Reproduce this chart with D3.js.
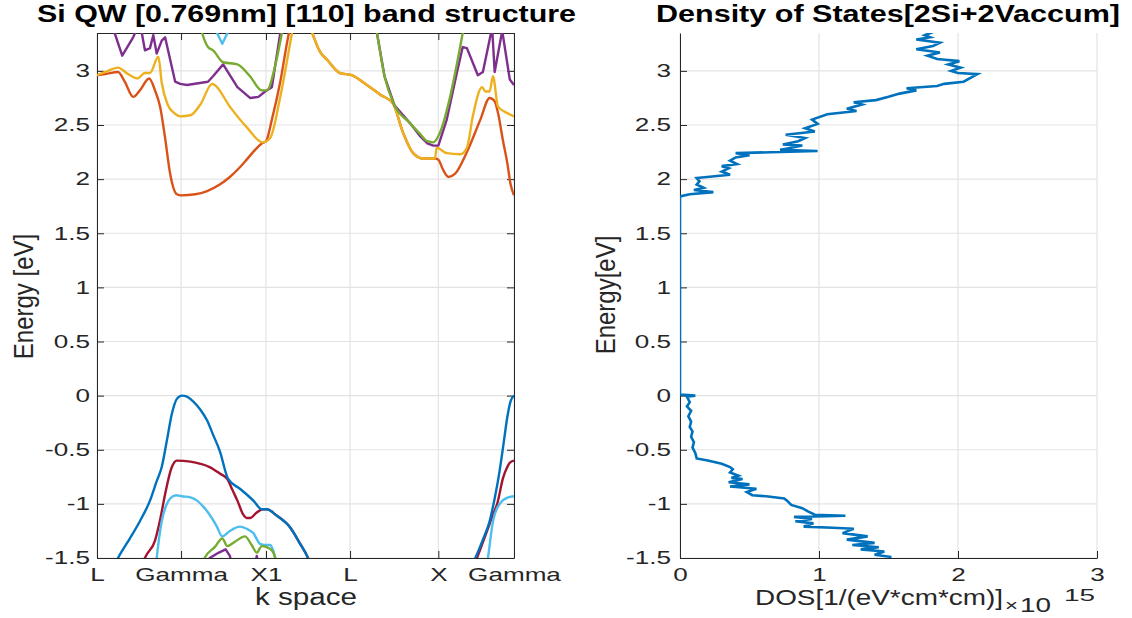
<!DOCTYPE html>
<html>
<head>
<meta charset="utf-8">
<script src="https://cdn.jsdelivr.net/npm/d3@7"></script>
<style>
body { margin: 0; background: #fff; }
text { font-family: "Liberation Sans", Arial, Helvetica, sans-serif; fill: #262626; }
</style>
</head>
<body>
<div id="chart"></div>
<script>
// k path ticks (band structure x axis)
var kTicks = [0, 1, 2.01, 3.01, 4.06, 4.96];
var kLabels = ["L", "Gamma", "X1", "L", "X", "Gamma"];
var energyTicks = [-1.5, -1, -0.5, 0, 0.5, 1, 1.5, 2, 2.5, 3];
var dosTicks = [0, 1, 2, 3];

// conduction bands [k, E]
var cbOrange = [[0.00,2.96],[0.10,2.97],[0.25,2.99],[0.33,2.90],[0.43,2.76],[0.51,2.82],[0.62,2.93],[0.69,2.82],[0.75,2.67],[0.81,2.38],[0.87,2.05],[0.95,1.86],[1.00,1.85],[1.17,1.86],[1.31,1.89],[1.46,1.95],[1.58,2.02],[1.70,2.11],[1.78,2.18],[1.88,2.27],[1.96,2.33],[2.01,2.35],[2.08,2.55],[2.18,2.90],[2.27,3.30],[2.41,3.70],[2.56,3.35],[2.65,3.18],[2.74,3.10],[2.89,2.98],[3.03,2.96],[3.21,2.87],[3.37,2.78],[3.52,2.70],[3.64,2.43],[3.76,2.24],[3.88,2.19],[4.02,2.19],[4.06,2.18],[4.12,2.08],[4.18,2.02],[4.26,2.05],[4.40,2.25],[4.56,2.55],[4.67,2.75],[4.73,2.72],[4.77,2.61],[4.83,2.35],[4.88,2.15],[4.92,1.95],[4.96,1.85]];
var cbYellow = [[0.00,2.96],[0.10,2.99],[0.25,3.03],[0.37,2.97],[0.48,2.93],[0.57,2.98],[0.63,2.98],[0.73,3.13],[0.77,2.89],[0.84,2.69],[0.92,2.61],[0.99,2.58],[1.11,2.59],[1.23,2.69],[1.37,2.88],[1.40,2.87],[1.58,2.67],[1.78,2.48],[1.97,2.34],[2.06,2.38],[2.18,2.76],[2.32,3.35],[2.41,3.70],[2.56,3.35],[2.65,3.18],[2.74,3.10],[2.89,2.98],[3.03,2.96],[3.21,2.87],[3.37,2.78],[3.52,2.70],[3.64,2.43],[3.76,2.24],[3.88,2.19],[4.02,2.19],[4.04,2.29],[4.16,2.24],[4.32,2.23],[4.40,2.29],[4.47,2.58],[4.58,2.85],[4.62,2.81],[4.67,2.81],[4.71,2.95],[4.77,2.67],[4.88,2.61],[4.96,2.58]];
var cbPurpleA = [[0.10,3.70],[0.21,3.35],[0.30,3.14],[0.43,3.31],[0.51,3.45],[0.57,3.19],[0.63,3.21],[0.67,3.33],[0.71,3.16],[0.77,3.28],[0.81,3.31],[0.93,2.90],[0.99,2.88],[1.07,2.87],[1.32,2.90],[1.38,2.95],[1.50,3.06],[1.67,2.85],[1.82,2.75],[1.92,2.76],[2.00,2.81],[2.08,2.85],[2.18,3.35],[2.24,3.70]];
var cbPurpleB = [[3.25,3.70],[3.33,3.35],[3.42,2.95],[3.54,2.68],[3.72,2.52],[3.84,2.40],[3.93,2.33],[4.00,2.31],[4.06,2.31],[4.16,2.55],[4.28,2.98],[4.35,3.22],[4.40,3.21],[4.53,2.96],[4.59,2.99],[4.70,3.40],[4.73,2.99],[4.82,3.37],[4.91,2.92],[4.96,2.87]];
var cbGreenA = [[1.15,3.70],[1.25,3.35],[1.32,3.22],[1.38,3.19],[1.50,3.08],[1.67,3.06],[1.82,2.95],[1.96,2.82],[2.02,2.82],[2.12,3.05],[2.20,3.35],[2.30,3.70]];
var cbGreenB = [[3.25,3.70],[3.33,3.35],[3.42,2.95],[3.54,2.68],[3.72,2.52],[3.84,2.42],[3.93,2.35],[4.00,2.34],[4.08,2.43],[4.20,2.76],[4.29,3.10],[4.35,3.35],[4.43,3.70]];
var cbCyan = [[1.41,3.38],[1.49,3.25],[1.57,3.38]];

// valence bands [k, E]
var vbBlueA = [[0.19,-1.60],[0.25,-1.50],[0.39,-1.32],[0.51,-1.16],[0.63,-0.97],[0.71,-0.79],[0.77,-0.66],[0.83,-0.42],[0.89,-0.17],[0.95,-0.03],[1.01,0.00],[1.07,-0.01],[1.14,-0.05],[1.23,-0.13],[1.31,-0.23],[1.38,-0.36],[1.46,-0.51],[1.56,-0.77],[1.70,-0.86],[1.86,-0.97],[1.96,-1.05],[2.02,-1.05],[2.14,-1.11],[2.30,-1.22],[2.41,-1.36],[2.51,-1.50],[2.56,-1.60]];
var vbBlueB = [[4.44,-1.60],[4.50,-1.50],[4.59,-1.33],[4.67,-1.16],[4.73,-0.95],[4.79,-0.69],[4.84,-0.42],[4.88,-0.20],[4.92,-0.05],[4.96,0.00]];
var vbRedA = [[0.51,-1.65],[0.57,-1.50],[0.69,-1.34],[0.75,-1.15],[0.81,-0.91],[0.89,-0.66],[0.95,-0.60],[1.11,-0.61],[1.23,-0.63],[1.34,-0.66],[1.46,-0.72],[1.55,-0.77],[1.61,-0.87],[1.67,-0.97],[1.74,-1.10],[1.78,-1.13],[1.82,-1.13],[1.90,-1.08],[1.97,-1.05],[2.02,-1.05],[2.14,-1.11],[2.30,-1.22],[2.41,-1.36],[2.51,-1.50],[2.56,-1.60]];
var vbRedB = [[4.47,-1.60],[4.52,-1.50],[4.64,-1.25],[4.71,-1.10],[4.76,-1.00],[4.83,-0.76],[4.88,-0.66],[4.91,-0.62],[4.96,-0.60]];
var vbCyanA = [[0.69,-1.65],[0.71,-1.50],[0.77,-1.16],[0.82,-1.02],[0.87,-0.95],[0.94,-0.92],[1.01,-0.93],[1.11,-0.94],[1.19,-0.97],[1.27,-1.03],[1.34,-1.10],[1.42,-1.20],[1.49,-1.30],[1.58,-1.25],[1.70,-1.21],[1.78,-1.23],[1.86,-1.27],[1.94,-1.37],[2.00,-1.38],[2.06,-1.38],[2.09,-1.42],[2.12,-1.50],[2.14,-1.60]];
var vbCyanB = [[4.63,-1.60],[4.65,-1.50],[4.71,-1.16],[4.79,-1.00],[4.89,-0.94],[4.96,-0.93]];
var vbGreen = [[1.26,-1.60],[1.28,-1.50],[1.40,-1.40],[1.49,-1.32],[1.55,-1.39],[1.64,-1.35],[1.76,-1.30],[1.84,-1.38],[1.90,-1.45],[1.96,-1.39],[2.02,-1.40],[2.08,-1.43],[2.12,-1.50],[2.14,-1.60]];
var vbPurpleA = [[1.31,-1.60],[1.34,-1.50],[1.45,-1.45],[1.53,-1.42],[1.58,-1.48],[1.62,-1.60]];
var vbPurpleB = [[1.88,-1.60],[1.90,-1.48],[1.93,-1.60]];

// density of states: energy (eV) and DOS (x 1e15)
var dosEnergy = [-1.52,-1.49,-1.47,-1.44,-1.42,-1.40,-1.38,-1.36,-1.33,-1.30,-1.27,-1.23,-1.22,-1.21,-1.18,-1.16,-1.14,-1.12,-1.11,-1.10,-1.07,-1.04,-1.01,-0.97,-0.95,-0.93,-0.92,-0.89,-0.86,-0.84,-0.82,-0.80,-0.77,-0.76,-0.74,-0.71,-0.68,-0.66,-0.63,-0.60,-0.58,-0.53,-0.48,-0.43,-0.38,-0.33,-0.29,-0.24,-0.19,-0.14,-0.10,-0.06,-0.01,0.00,0.01,1.84,1.86,1.88,1.90,1.92,1.95,1.98,2.01,2.04,2.07,2.10,2.12,2.14,2.17,2.20,2.22,2.24,2.26,2.27,2.29,2.31,2.32,2.35,2.38,2.41,2.44,2.47,2.51,2.55,2.60,2.63,2.65,2.69,2.71,2.73,2.76,2.79,2.82,2.84,2.86,2.88,2.90,2.97,2.98,3.00,3.03,3.06,3.09,3.11,3.14,3.17,3.20,3.23,3.26,3.29,3.31,3.33,3.36];
var dosValue = [1.43,1.52,1.40,1.47,1.30,1.43,1.24,1.40,1.20,1.35,1.17,1.25,1.10,0.89,0.96,0.83,0.95,0.82,1.19,0.97,0.92,0.88,0.80,0.77,0.75,0.62,0.52,0.48,0.55,0.36,0.50,0.35,0.45,0.37,0.42,0.36,0.38,0.36,0.30,0.20,0.12,0.11,0.09,0.10,0.08,0.09,0.07,0.08,0.06,0.08,0.05,0.07,0.05,0.11,0.00,0.00,0.07,0.24,0.10,0.17,0.12,0.14,0.12,0.36,0.30,0.35,0.30,0.41,0.36,0.40,0.50,0.40,0.99,0.72,0.80,0.88,0.74,0.85,0.90,0.76,0.97,0.90,0.99,0.95,1.06,1.27,1.20,1.31,1.25,1.41,1.50,1.58,1.70,1.63,1.85,1.90,2.04,2.14,2.00,1.95,2.02,1.93,2.01,1.85,1.78,1.87,1.70,1.82,1.87,1.70,1.80,1.76,1.82];

var C = { blue: "#0072BD", orange: "#D95319", yellow: "#EDB120", purple: "#7E2F8E",
          green: "#77AC30", cyan: "#4DBEEE", red: "#A2142F" };

var bands = [
    { pts: vbRedA, color: C.red }, { pts: vbRedB, color: C.red },
    { pts: vbBlueA, color: C.blue }, { pts: vbBlueB, color: C.blue },
    { pts: vbCyanA, color: C.cyan }, { pts: vbCyanB, color: C.cyan },
    { pts: vbGreen, color: C.green },
    { pts: vbPurpleA, color: C.purple, sharp: true }, { pts: vbPurpleB, color: C.purple, sharp: true },
    { pts: cbOrange, color: C.orange }, { pts: cbYellow, color: C.yellow },
    { pts: cbPurpleA, color: C.purple, sharp: true }, { pts: cbPurpleB, color: C.purple, sharp: true },
    { pts: cbGreenA, color: C.green }, { pts: cbGreenB, color: C.green },
    { pts: cbCyan, color: C.cyan, sharp: true }
];

var top0 = 33, bot0 = 558;
var sx = 1.45; // horizontal stretch of the text

var svg = d3.select('#chart').append('svg')
    .attr('width', 1132)
    .attr('height', 618);

var yE = d3.scaleLinear().domain([-1.5, 3.35]).range([bot0, top0]);
var xK = d3.scaleLinear().domain([0, 4.96]).range([97, 514]);
var xD = d3.scaleLinear().domain([0, 3]).range([680, 1097]);

var defs = svg.append('defs');
defs.append('clipPath').attr('id', 'clipL').append('rect')
    .attr('x', 97).attr('y', top0).attr('width', 514 - 97).attr('height', bot0 - top0);
defs.append('clipPath').attr('id', 'clipR').append('rect')
    .attr('x', 680).attr('y', top0).attr('width', 1097 - 680).attr('height', bot0 - top0);

function drawGrid(xs, xticks) {
    var g = svg.append('g').attr('stroke', '#e3e3e3').attr('stroke-width', 1.2);
    g.selectAll('.hg').data(energyTicks).enter().append('line')
        .attr('x1', xs.range()[0]).attr('x2', xs.range()[1])
        .attr('y1', function (d) { return yE(d); })
        .attr('y2', function (d) { return yE(d); });
    g.selectAll('.vg').data(xticks).enter().append('line')
        .attr('y1', top0).attr('y2', bot0)
        .attr('x1', function (d) { return xs(d); })
        .attr('x2', function (d) { return xs(d); });
}

drawGrid(xK, kTicks);
drawGrid(xD, dosTicks);

function styleAxis(g) {
    g.attr('font-family', '"Liberation Sans", Arial, Helvetica, sans-serif')
        .attr('font-size', 18);
    g.select('.domain').attr('stroke', '#262626').attr('stroke-width', 1);
    g.selectAll('.tick line').attr('stroke', '#262626').attr('stroke-width', 1);
    g.selectAll('.tick text').attr('fill', '#262626').attr('transform', 'scale(' + sx + ',1)');
}

// left panel axes (box on)
svg.append('g').attr('transform', 'translate(97,0)')
    .call(d3.axisLeft(yE).tickValues(energyTicks).tickSize(-7).tickSizeOuter(0).tickPadding(7 / sx)
        .tickFormat(function (d) { return String(d); }))
    .call(styleAxis);
svg.append('g').attr('transform', 'translate(514,0)')
    .call(d3.axisRight(yE).tickValues(energyTicks).tickSize(-7).tickSizeOuter(0).tickFormat(''))
    .call(styleAxis);
svg.append('g').attr('transform', 'translate(0,' + top0 + ')')
    .call(d3.axisTop(xK).tickValues(kTicks).tickSize(-7).tickSizeOuter(0).tickFormat(''))
    .call(styleAxis);
svg.append('g').attr('transform', 'translate(0,' + bot0 + ')')
    .call(d3.axisBottom(xK).tickValues(kTicks).tickSize(-7).tickSizeOuter(0).tickPadding(10)
        .tickFormat(function (d, i) { return kLabels[i]; }))
    .call(styleAxis);

// right panel axes (box off)
svg.append('g').attr('transform', 'translate(680,0)')
    .call(d3.axisLeft(yE).tickValues(energyTicks).tickSize(-7).tickSizeOuter(0).tickPadding(9 / sx)
        .tickFormat(function (d) { return String(d); }))
    .call(styleAxis);
svg.append('g').attr('transform', 'translate(0,' + bot0 + ')')
    .call(d3.axisBottom(xD).tickValues(dosTicks).tickSize(-7).tickSizeOuter(0).tickPadding(10)
        .tickFormat(function (d) { return String(d); }))
    .call(styleAxis);

// bands
var smooth = d3.line().curve(d3.curveMonotoneX)
    .x(function (d) { return xK(d[0]); })
    .y(function (d) { return yE(d[1]); });
var sharp = d3.line()
    .x(function (d) { return xK(d[0]); })
    .y(function (d) { return yE(d[1]); });

svg.append('g').attr('clip-path', 'url(#clipL)')
    .selectAll('path').data(bands).enter().append('path')
    .attr('d', function (b) { return b.sharp ? sharp(b.pts) : smooth(b.pts); })
    .attr('fill', 'none')
    .attr('stroke', function (b) { return b.color; })
    .attr('stroke-width', 2.4)
    .attr('stroke-linejoin', 'round');

// DOS
var dosLine = d3.line()
    .x(function (d, i) { return xD(dosValue[i]); })
    .y(function (d) { return yE(d); });

svg.append('g').attr('clip-path', 'url(#clipR)')
    .append('path')
    .attr('d', dosLine(dosEnergy))
    .attr('fill', 'none')
    .attr('stroke', C.blue)
    .attr('stroke-width', 2.6)
    .attr('stroke-linejoin', 'miter');

// titles
svg.append('text')
    .attr('x', 37).attr('y', 22)
    .attr('font-size', 23).attr('font-weight', 'bold')
    .attr('textLength', 539).attr('lengthAdjust', 'spacingAndGlyphs')
    .style('fill', '#000')
    .text('Si QW [0.769nm] [110] band structure');
svg.append('text')
    .attr('x', 656).attr('y', 22)
    .attr('font-size', 23).attr('font-weight', 'bold')
    .attr('textLength', 464).attr('lengthAdjust', 'spacingAndGlyphs')
    .style('fill', '#000')
    .text('Density of States[2Si+2Vaccum]');

// axis labels
svg.append('text')
    .attr('x', 306).attr('y', 605)
    .attr('text-anchor', 'middle')
    .attr('font-size', 23)
    .attr('textLength', 102).attr('lengthAdjust', 'spacingAndGlyphs')
    .text('k space');

svg.append('text')
    .attr('transform', 'translate(33,296.5) scale(1.16,1) rotate(-90)')
    .attr('text-anchor', 'middle')
    .attr('font-size', 24)
    .text('Energy [eV]');

svg.append('text')
    .attr('transform', 'translate(615,295) scale(1.16,1) rotate(-90)')
    .attr('text-anchor', 'middle')
    .attr('font-size', 24)
    .text('Energy[eV]');

svg.append('text')
    .attr('x', 755).attr('y', 605)
    .attr('font-size', 22)
    .attr('textLength', 248).attr('lengthAdjust', 'spacingAndGlyphs')
    .text('DOS[1/(eV*cm*cm)]');
svg.append('text')
    .attr('x', 1005).attr('y', 611)
    .attr('font-size', 16)
    .attr('textLength', 13).attr('lengthAdjust', 'spacingAndGlyphs')
    .text('\u00d7');
svg.append('text')
    .attr('x', 1020).attr('y', 612)
    .attr('font-size', 21)
    .attr('textLength', 31).attr('lengthAdjust', 'spacingAndGlyphs')
    .text('10');
svg.append('text')
    .attr('x', 1064).attr('y', 601)
    .attr('font-size', 16)
    .attr('textLength', 31).attr('lengthAdjust', 'spacingAndGlyphs')
    .text('15');
</script>
</body>
</html>
